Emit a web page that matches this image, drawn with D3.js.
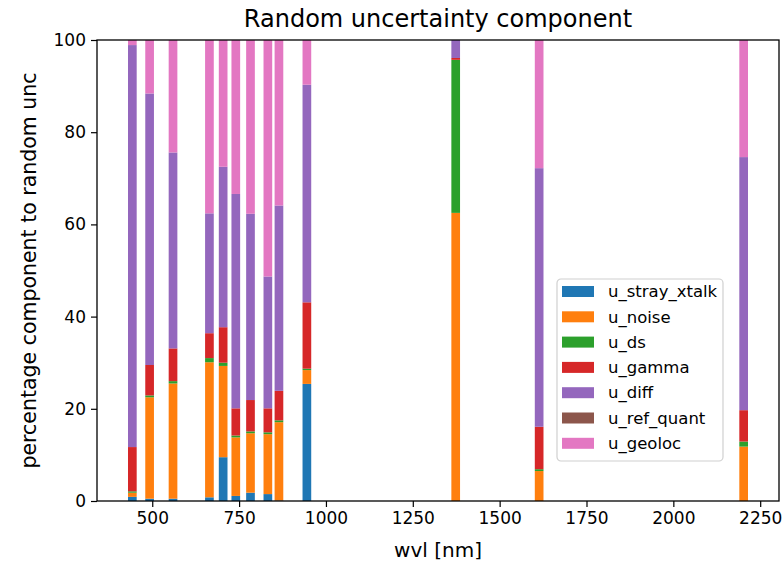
<!DOCTYPE html>
<html>
<head>
<meta charset="utf-8">
<script src="https://cdn.jsdelivr.net/npm/d3@7"></script>
<style>
  body { margin: 0; background: #fff; }
  svg { display: block; font-family: "DejaVu Sans", sans-serif; }
</style>
</head>
<body>
<div id="chart"></div>
<script>
// Sentinel-2A band centres [nm]
const wavelengths = [442.7, 492.4, 559.8, 664.6, 704.1, 740.5, 782.8, 832.8, 864.7, 945.1, 1373.5, 1613.7, 2202.4];

// percentage contribution of each component, per band
const u_stray_xtalk = [0.9, 0.5, 0.5, 0.8, 9.5, 1.1, 1.8, 1.5, 0.1, 25.4, 0, 0, 0];
const u_noise       = [0.9, 22.0, 25.0, 29.3, 19.8, 12.7, 12.9, 13.0, 17.0, 3.0, 62.5, 6.5, 11.8];
const u_ds          = [0.3, 0.4, 0.5, 0.9, 0.7, 0.4, 0.4, 0.4, 0.4, 0.3, 33.2, 0.4, 1.1];
const u_gamma       = [9.6, 6.6, 7.1, 5.4, 7.7, 5.9, 6.8, 5.2, 6.4, 14.4, 0.4, 9.2, 6.8];
const u_diff        = [87.2, 58.9, 42.5, 26.0, 34.8, 46.5, 40.4, 28.6, 40.2, 47.2, 3.9, 56.1, 54.9];
const u_ref_quant   = [0, 0, 0, 0, 0, 0, 0, 0, 0, 0, 0, 0, 0];
const u_geoloc      = [1.1, 11.6, 24.4, 37.6, 27.5, 33.4, 37.7, 51.3, 35.9, 9.7, 0, 27.8, 25.4];

const components = ["u_stray_xtalk", "u_noise", "u_ds", "u_gamma", "u_diff", "u_ref_quant", "u_geoloc"];
const componentValues = [u_stray_xtalk, u_noise, u_ds, u_gamma, u_diff, u_ref_quant, u_geoloc];
const colors = ["#1f77b4", "#ff7f0e", "#2ca02c", "#d62728", "#9467bd", "#8c564b", "#e377c2"];

const yTicks = [0, 20, 40, 60, 80, 100];
const xTicks = [500, 750, 1000, 1250, 1500, 1750, 2000, 2250];

const width = 783
    , height = 565
    , margin = { top: 40, right: 4, bottom: 64, left: 97 }
    , barWidth = 25
    ;

const table = wavelengths.map((w, i) => {
  const row = { wvl: w };
  components.forEach((c, j) => { row[c] = componentValues[j][i]; });
  return row;
});

const series = d3.stack().keys(components)(table);

// matplotlib style 5% auto margin around the bars
const lo = d3.min(wavelengths) - barWidth / 2
    , hi = d3.max(wavelengths) + barWidth / 2
    , pad = (hi - lo) * 0.05
    ;

const x = d3.scaleLinear()
    .domain([lo - pad, hi + pad])
    .range([margin.left, width - margin.right]);

const y = d3.scaleLinear()
    .domain([0, 100])
    .range([height - margin.bottom, margin.top]);

const svg = d3.select("#chart")
  .append("svg")
    .attr("width", width)
    .attr("height", height);

svg.append("g")
  .selectAll("g")
  .data(series)
  .join("g")
    .attr("fill", (d, i) => colors[i])
  .selectAll("rect")
  .data(d => d)
  .join("rect")
    .attr("x", d => x(d.data.wvl - barWidth / 2))
    .attr("width", d => x(d.data.wvl + barWidth / 2) - x(d.data.wvl - barWidth / 2))
    .attr("y", d => y(d[1]))
    .attr("height", d => y(d[0]) - y(d[1]));

// axes
const xAxis = svg.append("g")
    .attr("transform", `translate(0,${height - margin.bottom})`)
    .call(d3.axisBottom(x).tickValues(xTicks).tickFormat(d3.format("d"))
      .tickSizeOuter(0).tickSize(6).tickPadding(5));

const yAxis = svg.append("g")
    .attr("transform", `translate(${margin.left},0)`)
    .call(d3.axisLeft(y).tickValues(yTicks).tickFormat(d3.format("d"))
      .tickSizeOuter(0).tickSize(6).tickPadding(5));

[xAxis, yAxis].forEach(a => {
  a.selectAll("text").attr("font-size", 17).attr("fill", "#000").attr("font-family", "DejaVu Sans");
  a.selectAll("line").attr("stroke", "#000").attr("stroke-width", 1.2);
  a.select(".domain").remove();
});

// frame
svg.append("rect")
    .attr("x", margin.left)
    .attr("y", margin.top)
    .attr("width", width - margin.right - margin.left)
    .attr("height", height - margin.bottom - margin.top)
    .attr("fill", "none")
    .attr("stroke", "#000")
    .attr("stroke-width", 1.3);

// title & labels
svg.append("text")
    .attr("x", (margin.left + width - margin.right) / 2)
    .attr("y", 27)
    .attr("text-anchor", "middle")
    .attr("font-size", 24)
    .text("Random uncertainty component");

svg.append("text")
    .attr("x", (margin.left + width - margin.right) / 2)
    .attr("y", 557)
    .attr("text-anchor", "middle")
    .attr("font-size", 20)
    .text("wvl [nm]");

svg.append("text")
    .attr("transform", `translate(36,${(margin.top + height - margin.bottom) / 2}) rotate(-90)`)
    .attr("text-anchor", "middle")
    .attr("font-size", 20.5)
    .text("percentage component to random unc");

// legend
const legend = svg.append("g")
    .attr("transform", "translate(557,279)");

legend.append("rect")
    .attr("width", 166)
    .attr("height", 182)
    .attr("rx", 4)
    .attr("fill", "#fff")
    .attr("fill-opacity", 0.8)
    .attr("stroke", "#d0d0d0")
    .attr("stroke-width", 1.2);

const item = legend.selectAll("g")
  .data(components)
  .join("g")
    .attr("transform", (d, i) => `translate(0,${7 + i * 25.3})`);

item.append("rect")
    .attr("x", 5)
    .attr("y", 0)
    .attr("width", 32)
    .attr("height", 11)
    .attr("fill", (d, i) => colors[i]);

item.append("text")
    .attr("x", 51)
    .attr("y", 5.5)
    .attr("dy", "0.35em")
    .attr("font-size", 16.5)
    .text(d => d);
</script>
</body>
</html>
